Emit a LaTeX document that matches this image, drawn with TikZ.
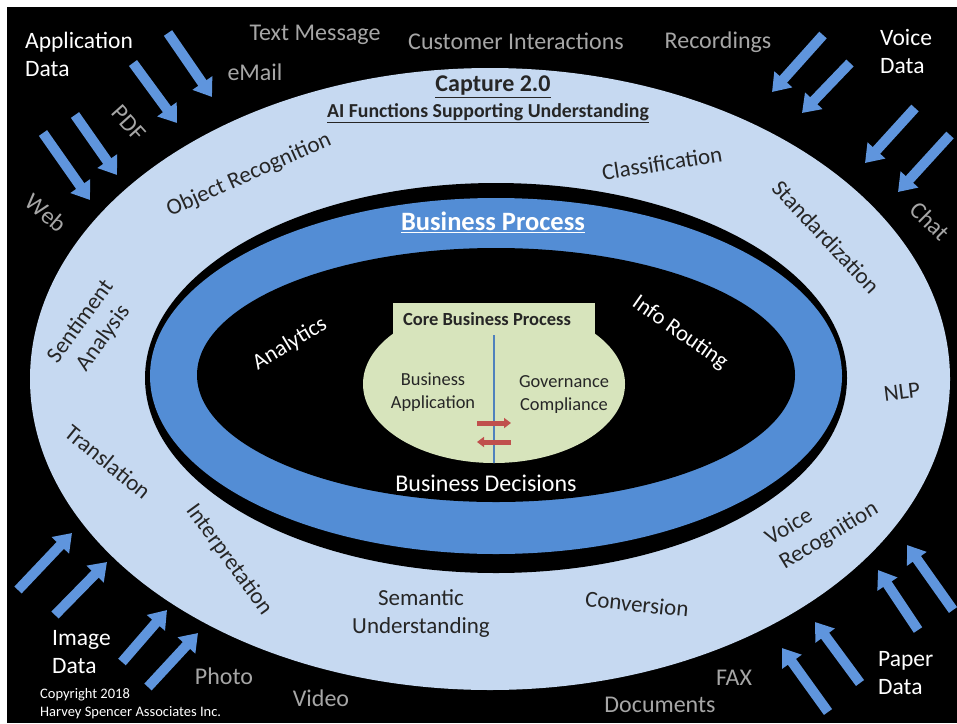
\documentclass[tikz,border=0pt]{standalone}
\usepackage{fontspec}
\setmainfont{Carlito}
\usetikzlibrary{arrows.meta}
\definecolor{lightring}{HTML}{C6D9F1}
\definecolor{bpblue}{HTML}{538DD5}
\definecolor{arrblue}{HTML}{5F95DD}
\definecolor{coregreen}{HTML}{D7E4BC}
\definecolor{graytxt}{HTML}{A6A6A6}
\definecolor{darktxt}{HTML}{262626}
\definecolor{redarr}{HTML}{C0504D}
\definecolor{splitblue}{HTML}{4F81BD}
\begin{document}
\begin{tikzpicture}[x=1pt,y=-1pt,
  inflow/.style={draw=arrblue,line width=10pt,-{Triangle[width=23pt,length=17pt]}},
  swap/.style={draw=redarr,line width=5pt,-{Triangle[width=10pt,length=7pt]}},
  ringtxt/.style={text=darktxt,font=\fontsize{23}{28}\selectfont,align=center,inner sep=0pt},
  srctxt/.style={text=graytxt,font=\fontsize{24}{26}\selectfont,inner sep=0pt},
  datatxt/.style={text=white,font=\fontsize{23.5}{28}\selectfont,align=left,inner sep=0pt,anchor=west},
  bptxt/.style={text=white,font=\fontsize{22.5}{26}\selectfont,inner sep=0pt},
  coretxt/.style={text=darktxt,font=\fontsize{18.4}{23}\selectfont,align=center,inner sep=0pt}]
\useasboundingbox (0,0) rectangle (957,723);
\fill[white] (0,0) rectangle (957,723);
\fill[black] (7,7) rectangle (957,723);
% rings
\fill[lightring] (490,379) ellipse [x radius=460, y radius=311];
\fill[black] (496,378) ellipse [x radius=351, y radius=195];
\fill[bpblue] (496,376) ellipse [x radius=346, y radius=178];
\fill[black] (496,375) ellipse [x radius=299, y radius=127];
% core business process shape
\fill[coregreen] (494,384) ellipse [x radius=131, y radius=79];
\fill[coregreen] (393,303) rectangle (595,334);
\coordinate (splitTop) at (494,335);
\coordinate (splitBot) at (494,463);
\draw[splitblue,line width=2pt] (splitTop) -- (splitBot);
\coordinate (r1s) at (477,423); \coordinate (r1e) at (511,423);
\coordinate (r2s) at (511,442); \coordinate (r2e) at (477,442);
\draw[swap] (r1s) -- (r1e);
\draw[swap] (r2s) -- (r2e);
% core texts
\node[coretxt,font=\bfseries\fontsize{18.5}{22}\selectfont] (core) at (487,319) {Core Business Process};
\node[coretxt] (bapp) at (433,392) {Business\\Application};
\node[coretxt] (gov) at (564,395) {Governance\\Compliance};
% business process ring texts
\node[bptxt,font=\bfseries\fontsize{26.5}{30}\selectfont] (bp) at (493,222) {\underline{Business Process}};
\node[bptxt,rotate=31] (analytics) at (290,344) {Analytics};
\node[bptxt,rotate=-35] (routing) at (680,333) {Info Routing};
\node[bptxt,font=\fontsize{24}{28}\selectfont] (decisions) at (486,483) {Business Decisions};
% capture ring texts
\node[ringtxt,font=\bfseries\fontsize{24}{28}\selectfont] (capture) at (493,87) {\underline{Capture 2.0}};
\node[ringtxt,font=\bfseries\fontsize{19.8}{24}\selectfont] (aifunc) at (488,113) {\underline{AI Functions Supporting Understanding}};
\node[ringtxt,rotate=24] (objrec) at (249,175) {Object Recognition};
\node[ringtxt,rotate=9] (classif) at (662,163) {Classification};
\node[ringtxt,rotate=-47] (standard) at (826,237) {Standardization};
\node[ringtxt,rotate=54] (sentiment) at (92,330) {Sentiment\\Analysis};
\node[ringtxt,rotate=7] (nlp) at (902,392) {NLP};
\node[ringtxt,rotate=-39] (translation) at (108,462) {Translation};
\node[ringtxt,rotate=-54] (interp) at (229,560) {Interpretation};
\node[ringtxt] (semantic) at (421,614) {Semantic\\Understanding};
\node[ringtxt,rotate=-6] (conversion) at (637,604) {Conversion};
\node[ringtxt,rotate=31,align=left] (voicerec) at (822,524) {Voice\\Recognition};
% source texts
\node[srctxt] (textmsg) at (315,35) {Text Message};
\node[srctxt] (custint) at (516,41) {Customer Interactions};
\node[srctxt] (recordings) at (718,42) {Recordings};
\node[srctxt] (email) at (255,72) {eMail};
\node[srctxt,rotate=-48] (pdf) at (129,123) {PDF};
\node[srctxt,rotate=-40] (web) at (46,213) {Web};
\node[srctxt,rotate=-45] (chat) at (930,221) {Chat};
\node[srctxt] (photo) at (224,676) {Photo};
\node[srctxt] (video) at (321,698) {Video};
\node[srctxt] (documents) at (660,705) {Documents};
\node[srctxt] (fax) at (734,678) {FAX};
% data texts
\node[datatxt] (appdata) at (25,54) {Application\\Data};
\node[datatxt] (voicedata) at (880,51) {Voice\\Data};
\node[datatxt] (imagedata) at (52,652) {Image\\Data};
\node[datatxt] (paperdata) at (878,673) {Paper\\Data};
\node[text=white,font=\fontsize{14.5}{18}\selectfont,align=left,anchor=west,inner sep=0pt] (copyright) at (40,704) {Copyright 2018\\Harvey Spencer Associates Inc.};
% inflow arrows: top left
\coordinate (tl1s) at (168,33);  \coordinate (tl1e) at (212,97);
\coordinate (tl2s) at (133,63);  \coordinate (tl2e) at (177,123);
\coordinate (tl3s) at (75,115);  \coordinate (tl3e) at (117,175);
\coordinate (tl4s) at (43,133);  \coordinate (tl4e) at (90,200);
% top right
\coordinate (tr1s) at (823,35);  \coordinate (tr1e) at (772,92);
\coordinate (tr2s) at (850,63);  \coordinate (tr2e) at (802,113);
\coordinate (tr3s) at (915,108); \coordinate (tr3e) at (865,163);
\coordinate (tr4s) at (950,135); \coordinate (tr4e) at (898,192);
% bottom left
\coordinate (bl1s) at (18,590);  \coordinate (bl1e) at (72,533);
\coordinate (bl2s) at (55,615);  \coordinate (bl2e) at (107,562);
\coordinate (bl3s) at (122,662); \coordinate (bl3e) at (167,610);
\coordinate (bl4s) at (148,687); \coordinate (bl4e) at (198,633);
% bottom right
\coordinate (br1s) at (828,712); \coordinate (br1e) at (782,648);
\coordinate (br2s) at (860,683); \coordinate (br2e) at (815,622);
\coordinate (br3s) at (918,630); \coordinate (br3e) at (878,570);
\coordinate (br4s) at (953,610); \coordinate (br4e) at (907,545);
\foreach \a in {tl1,tl2,tl3,tl4,tr1,tr2,tr3,tr4,bl1,bl2,bl3,bl4,br1,br2,br3,br4}
  \draw[inflow] (\a s) -- (\a e);
\end{tikzpicture}
\end{document}
